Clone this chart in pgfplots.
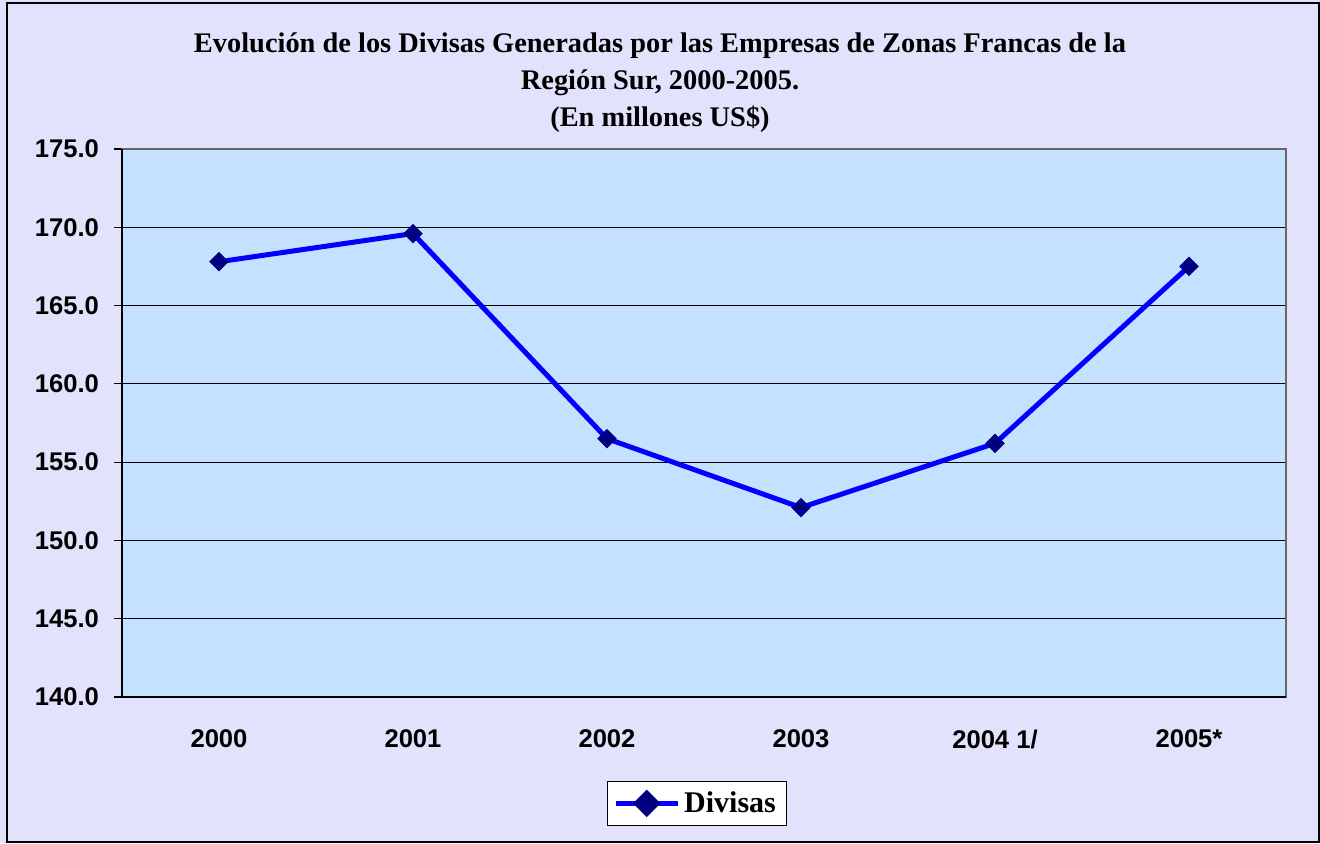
\documentclass[border=0pt]{standalone}
\usepackage{pgfplots}
\pgfplotsset{compat=1.18}
\usepackage{fontspec}
\setmainfont{Liberation Serif}
\newfontfamily\arial{Liberation Sans}
\definecolor{outerbg}{HTML}{E2E2FC}
\definecolor{innerbg}{HTML}{C4E1FF}
\definecolor{navy}{HTML}{000080}
\begin{document}
\begin{tikzpicture}[x=1pt,y=1pt]
\fill[outerbg] (0,0) rectangle (660,421.5);
\draw[black,line width=0.8pt] (3.5,0.5) rectangle (659.5,420);
\node[font=\bfseries\fontsize{14.2}{16}\selectfont] at (330,398.5) {Evolución de los Divisas Generadas por las Empresas de Zonas Francas de la};
\node[font=\bfseries\fontsize{14.2}{16}\selectfont] at (330,380) {Región Sur, 2000-2005.};
\node[font=\bfseries\fontsize{14.2}{16}\selectfont] at (330,362) {(En millones US\$)};
\begin{axis}[
  at={(61pt,73pt)}, anchor=south west,
  width=582pt, height=274pt, scale only axis,
  xmin=-0.5, xmax=5.5, ymin=140, ymax=175,
  axis background/.style={fill=innerbg},
  axis line style={draw=gray!80!black, line width=0.8pt},
  xtick={0,1,2,3,4,5},
  xticklabels={2000,2001,2002,2003,2004 1/,2005*},
  minor xtick={-0.5,0.5,1.5,2.5,3.5,4.5,5.5},
  xtick pos=bottom, ytick pos=left,
  xtick style={draw=none},
  minor tick length=4pt,
  major tick length=4pt,
  tick align=outside,
  minor tick style={black, line width=0.6pt},
  ytick={140,145,...,175},
  ytick style={black, line width=0.6pt},
  ymajorgrids, grid style={black, line width=0.5pt},
  tick label style={font=\arial\bfseries\fontsize{12.8}{14}\selectfont},
  /pgf/number format/assume math mode=true,
  yticklabel={\pgfmathprintnumber[fixed,fixed zerofill,precision=1]{\tick}},
  xticklabel style={anchor=center, yshift=-17pt},
  yticklabel style={anchor=east, xshift=-4pt},
  legend style={at={(0.4936,-0.194)}, anchor=center, draw=black, fill=white,
    font=\bfseries\fontsize{15}{17}\selectfont, inner xsep=3pt, inner ysep=3pt,
    /tikz/every even column/.append style={column sep=2pt}},
  legend cell align=left,
  legend image code/.code={
    \draw[#1, line width=2.5pt] (0pt,0pt) -- (31pt,0pt);
    \draw[navy, fill=navy] (15.5pt,0pt) plot[mark=square*, mark size=3.6pt, mark options={rotate=45}] coordinates {(15.5pt,0pt)};
  },
  clip=false,
]
\addplot[color=blue, line width=2.5pt, mark=square*, mark size=3.2pt,
  mark options={fill=navy, draw=navy, rotate=45, line width=0.5pt}]
  coordinates {(0,167.8) (1,169.6) (2,156.5) (3,152.1) (4,156.2) (5,167.5)};
\addlegendentry{Divisas}
\draw[black, line width=0.8pt] (rel axis cs:0,1) -- (rel axis cs:0,0) -- (rel axis cs:1,0);
\end{axis}
\end{tikzpicture}
\end{document}
